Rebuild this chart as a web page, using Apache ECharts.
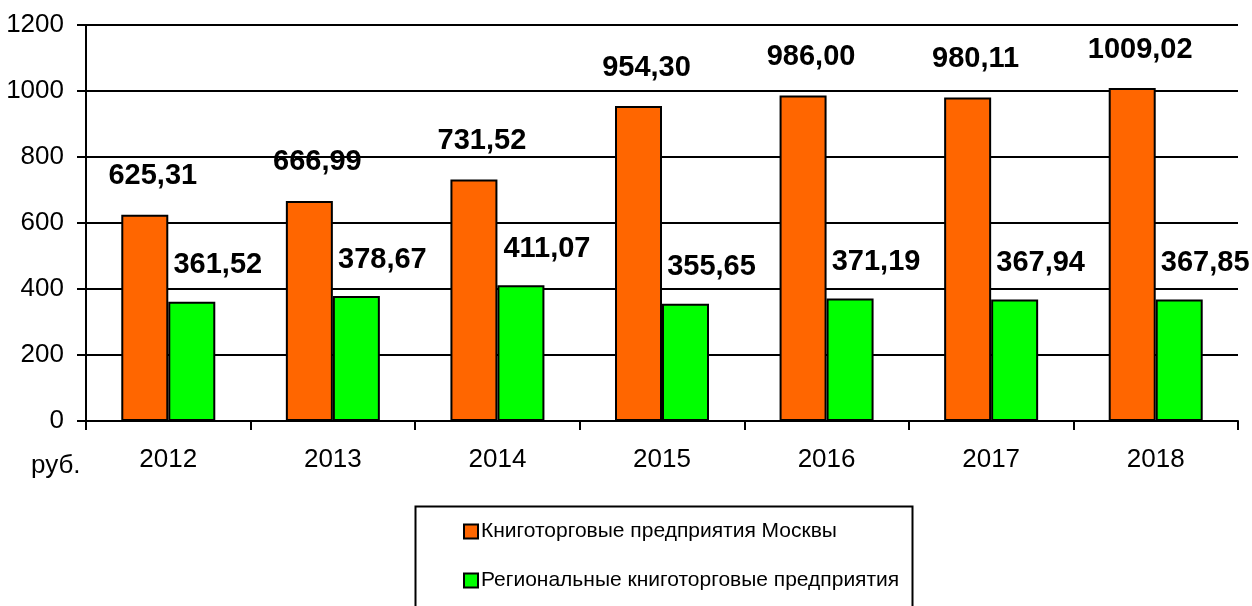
<!DOCTYPE html>
<html>
<head>
<meta charset="utf-8">
<script src="https://cdn.jsdelivr.net/npm/echarts@6/dist/echarts.min.js"></script>
<style>
html,body{margin:0;padding:0;background:#fff;}
#c{width:1252px;height:606px;}
</style>
</head>
<body>
<div id="c"></div>
<script>
const categories = ['2012','2013','2014','2015','2016','2017','2018'];
const moscowValues = [625.31, 666.99, 731.52, 954.30, 986.00, 980.11, 1009.02];
const regionalValues = [361.52, 378.67, 411.07, 355.65, 371.19, 367.94, 367.85];
const seriesNames = ['Книготорговые предприятия Москвы', 'Региональные книготорговые предприятия'];
const unitLabel = 'руб.';

const FONT = "'Liberation Sans', Arial, sans-serif";
const fmt = v => v.value.toFixed(2).replace('.', ',');

const chart = echarts.init(document.getElementById('c'), null, {renderer: 'canvas'});
chart.setOption({
  animation: false,
  backgroundColor: '#ffffff',
  grid: {left: 86, right: 14, top: 25, bottom: 185, containLabel: false, outerBoundsMode: 'none'},
  xAxis: {
    type: 'category',
    data: categories,
    axisLine: {lineStyle: {color: '#000', width: 2}},
    axisTick: {show: true, length: 9, lineStyle: {color: '#000', width: 2}},
    axisLabel: {color: '#000', fontSize: 26, fontFamily: FONT, margin: 26}
  },
  yAxis: {
    type: 'value',
    min: 0, max: 1200, interval: 200,
    axisLine: {show: true, lineStyle: {color: '#000', width: 2}},
    axisTick: {show: true, length: 9, lineStyle: {color: '#000', width: 2}},
    axisLabel: {color: '#000', fontSize: 26, fontFamily: FONT, margin: 22, formatter: v => String(v)},
    splitLine: {show: true, lineStyle: {color: '#000', width: 2}}
  },
  legend: {
    orient: 'vertical',
    left: 463, top: 521,
    padding: 0,
    itemWidth: 14, itemHeight: 14,
    itemGap: 28,
    icon: 'rect',
    itemStyle: {borderColor: '#000', borderWidth: 2},
    textStyle: {color: '#000', fontSize: 21, fontFamily: FONT, padding: [0,0,0,-2]},
    data: seriesNames
  },
  graphic: [
    {type: 'rect', left: 413, top: 504, shape: {width: 497, height: 130},
     style: {fill: 'none', stroke: '#000', lineWidth: 2}, z: -1},
    {type: 'text', left: 31, top: 453, style: {text: unitLabel, fill: '#000', font: '26px ' + FONT}}
  ],
  series: [
    {
      name: seriesNames[0], type: 'bar', data: moscowValues,
      barWidth: 47, barGap: '0%',
      itemStyle: {color: '#FF6600', borderColor: '#000', borderWidth: 2},
      label: {show: true, position: 'top', distance: 24, offset: [8, 0], formatter: fmt,
        color: '#000', fontSize: 29, fontWeight: 'bold', fontFamily: FONT}
    },
    {
      name: seriesNames[1], type: 'bar', data: regionalValues,
      barWidth: 47,
      itemStyle: {color: '#00FF00', borderColor: '#000', borderWidth: 2},
      label: {show: true, position: 'top', distance: 22, offset: [26, 0], formatter: fmt,
        color: '#000', fontSize: 29, fontWeight: 'bold', fontFamily: FONT}
    }
  ]
});
</script>
</body>
</html>
